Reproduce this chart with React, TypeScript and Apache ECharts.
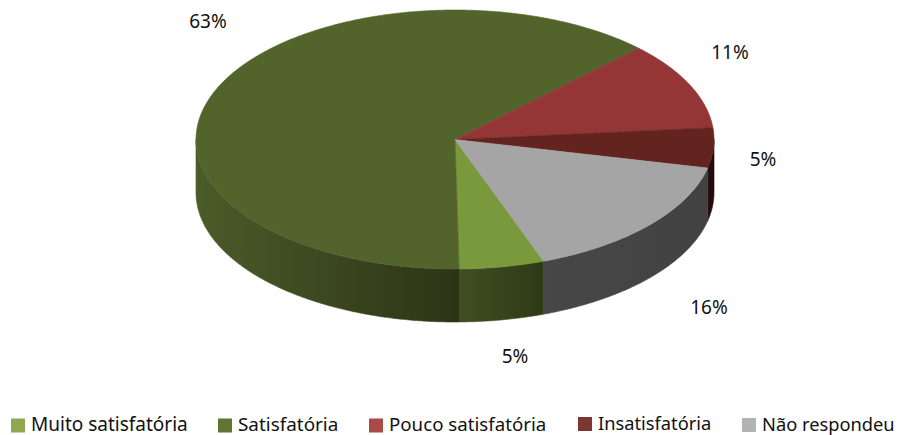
import React, { useEffect, useRef } from "react";
import * as echarts from "echarts";

const categories = ["Muito satisfatória", "Satisfatória", "Pouco satisfatória", "Insatisfatória", "Não respondeu"];
const values = [5.3, 62.8, 11, 5, 15.9];

const FONT = "Noto Sans";
const topColors = ["#7a983c", "#52642c", "#943636", "#632420", "#a5a5a5"];
const legendColors = ["#8fa84f", "#5f7534", "#a84a45", "#7a3630", "#b3b3b3"];
const wallStops = [
  ["#414e22", "#2e3a16"],
  ["#4b5b29", "#2c3416"],
  ["#5a2020", "#3a1010"],
  ["#2c1010", "#1e0808"],
  ["#474747", "#424242"],
];
const labelAt = [[515, 356], [208, 21], [730, 52], [763, 159], [709, 307]];
const legendAt = [[11, 414, 0], [218, 414, 2], [369, 414, 0], [578, 413, 0], [742, 414, 0]];
const legendFontSizes = [19, 18.9, 18.7, 18.3, 18.3];
// transparent corner point keeps the square in the lower part of the legend's symbol box
const legendIcon = "path://M0 0L0 0ZM0 4H14V18H0Z";

const CX = 455, CY = 139.5, RX = 259, RY = 129.5, DEPTH = 53, START = 70;
const total = values.reduce((a, b) => a + b, 0);
const rad = (d: number) => (d * Math.PI) / 180;
const pt = (d: number, dy = 0) => [CX + RX * Math.cos(rad(d)), CY + RY * Math.sin(rad(d)) + dy];

function arc(from: number, to: number, dy = 0) {
  const pts: number[][] = [];
  const n = Math.max(2, Math.ceil((to - from) * 2));
  for (let i = 0; i <= n; i++) pts.push(pt(from + ((to - from) * i) / n, dy));
  return pts;
}

function sliceRange(i: number) {
  let a = START;
  for (let k = 0; k < i; k++) a += (values[k] / total) * 360;
  return [a, a + (values[i] / total) * 360];
}

function wall(i: number, from: number, to: number) {
  // front-facing part of the rim: screen angles between 0 and 180 (also +360)
  const pieces: any[] = [];
  for (const [lo, hi] of [[0, 180], [360, 540]]) {
    const a = Math.max(from, lo), b = Math.min(to, hi);
    if (b <= a) continue;
    const top = arc(a, b);
    const bottom = arc(a, b, DEPTH).reverse();
    const fill = new echarts.graphic.LinearGradient(0, 0, 1, 0, [
      { offset: 0, color: wallStops[i][0] },
      { offset: 1, color: wallStops[i][1] },
    ]);
    pieces.push({
      type: "polygon",
      shape: { points: [...top, ...bottom] },
      style: { fill, stroke: fill, lineWidth: 0.6 },
    });
  }
  return pieces;
}

function makeSeries(i: number) {
  return {
    type: "custom",
    name: categories[i],
    coordinateSystem: "none",
    data: [[values[i]]],
    itemStyle: { color: legendColors[i] },
    silent: true,
    z: 2,
    renderItem: () => {
      const [from, to] = sliceRange(i);
      return {
        type: "group",
        children: [
          ...wall(i, from, to),
          {
            type: "polygon",
            z2: 5,
            shape: { points: [[CX, CY], ...arc(from, to)] },
            style: { fill: topColors[i], stroke: topColors[i], lineWidth: 0.6 },
          },
          {
            type: "text",
            z2: 6,
            style: {
              x: labelAt[i][0],
              y: labelAt[i][1],
              text: Math.round(values[i]) + "%",
              fill: "#111",
              font: `19px "${FONT}"`,
              align: "center",
              verticalAlign: "middle",
            },
          },
        ],
      };
    },
  };
}

export default function App() {
  const ref = useRef<HTMLDivElement>(null);
  useEffect(() => {
    const chart = echarts.init(ref.current!, undefined, { renderer: "svg" });
    chart.setOption({
      animation: false,
      backgroundColor: "#ffffff",
      legend: categories.map((name, i) => ({
        data: [name],
        left: legendAt[i][0],
        top: legendAt[i][1],
        padding: 0,
        icon: legendIcon,
        itemWidth: 14,
        itemHeight: 18,
        selectedMode: false,
        textStyle: {
          fontFamily: FONT,
          fontSize: legendFontSizes[i],
          lineHeight: 16,
          color: "#111",
          padding: [legendAt[i][2], 0, 0, 1],
        },
      })),
      series: categories.map((_, i) => makeSeries(i)),
    });
    return () => chart.dispose();
  }, []);
  return <div ref={ref} style={{ position: "absolute", left: 0, top: 0, width: 898, height: 435 }} />;
}
